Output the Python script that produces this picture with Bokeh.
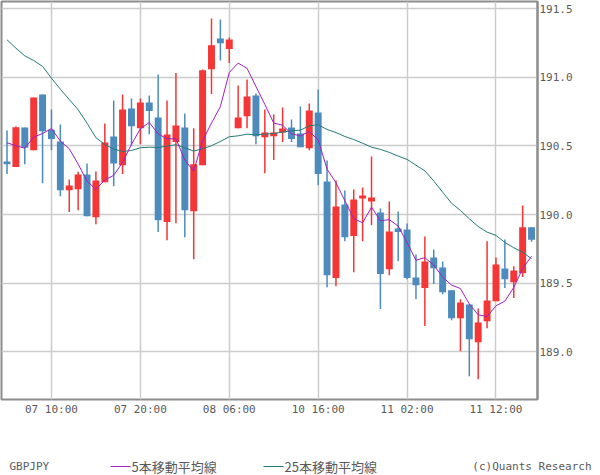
from bokeh.plotting import figure
from bokeh.models import Range1d, FixedTicker, PrintfTickFormatter, Label
from bokeh.layouts import column, row
from bokeh.embed import file_html
from bokeh.resources import INLINE

# ---- data (GBPJPY hourly) ----
opens = [190.387, 190.346, 190.635, 190.469, 190.875, 190.618, 190.533, 190.178, 190.185, 190.292,
         189.981, 190.236, 190.569, 190.360, 190.773, 190.630, 190.817, 190.708, 189.945, 190.528,
         190.635, 190.025, 190.360, 191.060, 191.284, 191.206, 190.630, 190.717, 190.868, 190.564,
         190.571, 190.598, 190.635, 190.591, 190.484, 190.744, 190.241, 189.537, 190.074, 189.843,
         190.117, 190.096, 190.015, 189.602, 189.899, 189.891, 189.542, 189.464, 189.687, 189.614,
         189.449, 189.245, 189.345, 189.070, 189.223, 189.369, 189.607, 189.507, 189.573, 189.908]
highs = [190.613, 190.642, 190.635, 190.854, 190.875, 190.766, 190.657, 190.256, 190.312, 190.373,
         190.314, 190.664, 190.832, 190.875, 190.846, 190.846, 190.868, 191.021, 190.832, 191.031,
         190.737, 190.630, 191.058, 191.429, 191.422, 191.291, 190.941, 190.985, 190.883, 190.766,
         190.730, 190.781, 190.693, 190.788, 190.810, 190.912, 190.394, 190.249, 190.176, 190.183,
         190.198, 190.424, 190.045, 190.096, 190.023, 189.935, 189.709, 189.840, 189.746, 189.658,
         189.449, 189.383, 189.345, 189.316, 189.806, 189.687, 189.819, 189.624, 190.066, 189.908]
lows = [190.295, 190.346, 190.367, 190.469, 190.229, 190.469, 190.134, 190.018, 190.032, 189.988,
        189.930, 190.236, 190.207, 190.295, 190.504, 190.513, 190.586, 189.872, 189.813, 189.937,
        189.835, 189.675, 190.360, 190.878, 191.123, 191.104, 190.630, 190.630, 190.513, 190.302,
        190.397, 190.528, 190.528, 190.491, 190.469, 190.214, 189.471, 189.478, 189.806, 189.580,
        189.806, 189.923, 189.311, 189.558, 189.660, 189.529, 189.383, 189.187, 189.493, 189.420,
        189.230, 189.004, 188.822, 188.800, 189.172, 189.369, 189.464, 189.391, 189.544, 189.802]
closes = [190.367, 190.637, 190.487, 190.854, 190.608, 190.550, 190.178, 190.212, 190.292, 189.988,
          190.249, 190.526, 190.373, 190.766, 190.644, 190.817, 190.754, 189.959, 190.584, 190.649,
          190.032, 190.367, 191.052, 191.235, 191.249, 191.276, 190.708, 190.861, 190.571, 190.598,
          190.598, 190.628, 190.550, 190.491, 190.759, 190.295, 189.558, 190.059, 189.835, 190.110,
          190.139, 190.125, 189.566, 189.877, 189.872, 189.537, 189.485, 189.658, 189.609, 189.434,
          189.245, 189.359, 189.092, 189.214, 189.374, 189.636, 189.529, 189.593, 189.908, 189.816]
ma5 = [190.523, 190.502, 190.484, 190.564, 190.591, 190.627, 190.535, 190.480, 190.368, 190.244,
       190.184, 190.253, 190.286, 190.380, 190.512, 190.625, 190.671, 190.588, 190.552, 190.553,
       190.396, 190.318, 190.537, 190.667, 190.787, 191.036, 191.104, 191.066, 190.933, 190.803,
       190.667, 190.651, 190.589, 190.573, 190.605, 190.545, 190.331, 190.232, 190.101, 189.971,
       189.940, 190.054, 189.955, 189.963, 189.916, 189.795, 189.667, 189.686, 189.632, 189.545,
       189.486, 189.461, 189.348, 189.269, 189.257, 189.335, 189.369, 189.469, 189.608, 189.696]
ma25 = [191.274, 191.213, 191.157, 191.123, 191.080, 190.994, 190.914, 190.839, 190.764, 190.666,
        190.560, 190.511, 190.477, 190.460, 190.467, 190.487, 190.491, 190.489, 190.499, 190.509,
        190.487, 190.462, 190.480, 190.502, 190.533, 190.567, 190.574, 190.586, 190.582, 190.586,
        190.591, 190.601, 190.611, 190.615, 190.647, 190.655, 190.620, 190.598, 190.569, 190.547,
        190.520, 190.491, 190.475, 190.453, 190.426, 190.402, 190.360, 190.319, 190.245, 190.163,
        190.083, 190.030, 189.969, 189.913, 189.872, 189.848, 189.797, 189.758, 189.726, 189.678]
tick_idx = [5, 15, 25, 35, 45, 55]
tick_labels = ["07 10:00", "07 20:00", "08 06:00", "10 16:00", "11 02:00", "11 12:00"]
y_ticks = [189.0, 189.5, 190.0, 190.5, 191.0, 191.5]
symbol = "GBPJPY"
legend_ma5 = "5本移動平均線"
legend_ma25 = "25本移動平均線"
credit = "(c)Quants Research"

RED = "#f43636"
BLUE = "#4d8bbd"
PURPLE = "#a020c0"
TEAL = "#247a78"
TXT = "#5a5a5a"

xs = list(range(len(opens)))
cols = [RED if c >= o else BLUE for o, c in zip(opens, closes)]
tops = [max(o, c) for o, c in zip(opens, closes)]
bots = [min(o, c) for o, c in zip(opens, closes)]

p = figure(width=600, height=425, x_range=Range1d(-0.62, 59.67), y_range=Range1d(188.652, 191.553),
           output_backend="svg", toolbar_location=None, y_axis_location="right",
           min_border_left=1, min_border_top=1, min_border_right=63, min_border_bottom=26)
p.background_fill_color = "white"
p.border_fill_color = "white"
p.outline_line_color = "#8c8c8c"
p.outline_line_width = 2

p.xaxis.ticker = FixedTicker(ticks=tick_idx)
p.xaxis.major_label_overrides = {t: l for t, l in zip(tick_idx, tick_labels)}
p.yaxis.ticker = FixedTicker(ticks=y_ticks)
p.yaxis.formatter = PrintfTickFormatter(format="%.1f")
for ax in (p.xaxis, p.yaxis):
    ax.major_tick_line_color = None
    ax.minor_tick_line_color = None
    ax.major_tick_out = 0
    ax.major_tick_in = 0
    ax.minor_tick_out = 0
    ax.minor_tick_in = 0
    ax.major_label_text_font = "DejaVu Sans Mono"
    ax.major_label_text_font_size = "11px"
    ax.major_label_text_color = TXT
p.xaxis.axis_line_color = None
p.yaxis.axis_line_color = "#8c8c8c"
p.yaxis.axis_line_width = 2
p.xaxis.major_label_standoff = 3
p.yaxis.major_label_standoff = 2
p.grid.grid_line_color = "#cccccc"
p.grid.grid_line_width = 1.5

p.segment(x0=xs, y0=lows, x1=xs, y1=highs, color=cols, line_width=1.5)
p.vbar(x=xs, width=0.78, top=tops, bottom=bots, fill_color=cols, line_color=None)
p.line(xs, ma25, color=TEAL, line_width=1)
p.line(xs, ma5, color=PURPLE, line_width=1)

# legend strip (full-width frame, data x == pixel x)
leg = figure(width=600, height=50, x_range=Range1d(0, 600), y_range=Range1d(50, 0),
             output_backend="svg", toolbar_location=None, x_axis_type=None, y_axis_type=None,
             min_border_left=0, min_border_right=0, min_border_top=0, min_border_bottom=0,
             outline_line_color=None)
leg.grid.visible = False
ly = 41
leg.add_layout(Label(x=9, y=ly, text=symbol, text_font="DejaVu Sans Mono", text_font_size="11px",
                     text_baseline="middle", text_color=TXT))
leg.segment(x0=[110], y0=[ly], x1=[130], y1=[ly], color=PURPLE, line_width=1)
leg.add_layout(Label(x=131, y=ly, text=legend_ma5, text_font="Noto Sans CJK JP", text_font_size="13px",
                     text_baseline="middle", text_color=TXT))
leg.segment(x0=[263], y0=[ly], x1=[283], y1=[ly], color=TEAL, line_width=1)
leg.add_layout(Label(x=284, y=ly, text=legend_ma25, text_font="Noto Sans CJK JP", text_font_size="13px",
                     text_baseline="middle", text_color=TXT))
leg.add_layout(Label(x=591, y=ly, text=credit, text_font="DejaVu Sans Mono", text_font_size="11px",
                     text_baseline="middle", text_align="right", text_color=TXT))

layout = column(p, row(leg))
open("out.html", "w").write(file_html(layout, INLINE))
